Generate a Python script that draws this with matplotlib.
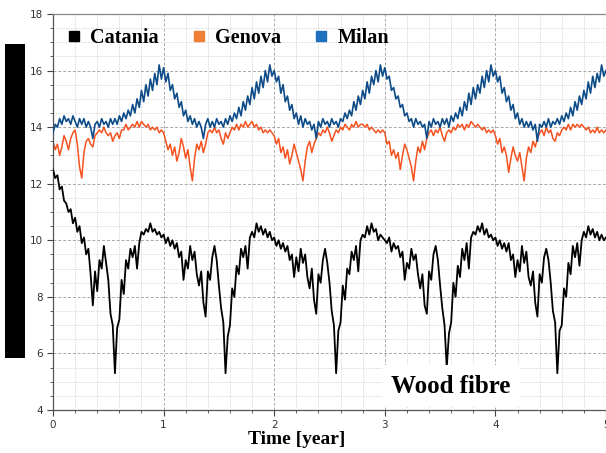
import numpy as np
import matplotlib
matplotlib.use("Agg")
import matplotlib.pyplot as plt
from matplotlib.lines import Line2D
from matplotlib.patches import Rectangle
from matplotlib.ticker import MultipleLocator

# ---------------- data (step 0.02 year) ----------------
step = 0.02
series_names = ["Catania", "Genova", "Milan"]

cat_y0 = [12.5, 12.2, 12.3, 11.8, 11.9, 11.4, 11.3, 11.0, 11.1, 10.6,
          10.8, 10.3, 10.5, 9.9, 10.1, 9.5, 9.7, 8.8, 7.7, 8.9,
          8.2, 9.3, 9.0, 9.8, 9.2, 8.6, 7.4, 7.0, 5.3, 6.9,
          7.2, 8.6, 8.1, 9.3, 9.0, 9.7, 9.4, 9.8, 9.0, 9.9,
          10.3, 10.2, 10.4, 10.3, 10.6, 10.3, 10.4, 10.2, 10.3, 10.1]
cat_y1 = [10.2, 9.9, 10.1, 9.8, 10.0, 9.7, 9.9, 9.4, 9.6, 8.6,
          9.3, 9.0, 9.8, 9.3, 9.6, 8.8, 8.4, 8.9, 7.8, 7.3,
          8.9, 8.6, 9.4, 9.8, 9.3, 8.4, 7.6, 7.1, 5.3, 6.6,
          7.0, 8.3, 8.0, 9.1, 8.8, 9.7, 9.4, 9.8, 9.0, 10.1,
          10.3, 10.1, 10.6, 10.3, 10.5, 10.2, 10.4, 10.1, 10.3, 10.0]
cat_y2 = [10.1, 9.8, 10.0, 9.7, 9.9, 9.6, 9.8, 9.3, 9.5, 8.7,
          9.4, 8.9, 9.7, 9.2, 9.5, 8.7, 8.3, 9.0, 7.9, 7.4,
          8.8, 8.5, 9.3, 9.7, 9.2, 8.5, 7.5, 7.0, 5.3, 6.8,
          7.1, 8.4, 7.9, 9.0, 8.8, 9.6, 9.3, 9.8, 8.9, 10.0,
          10.2, 10.1, 10.5, 10.2, 10.6, 10.3, 10.4, 10.0, 10.2, 10.1]
cat_y3 = [10.0, 9.9, 10.1, 9.6, 9.9, 9.7, 9.8, 9.4, 9.6, 8.6,
          9.2, 9.0, 9.7, 9.3, 9.5, 8.8, 8.3, 8.8, 7.7, 7.4,
          8.9, 8.6, 9.5, 9.8, 9.3, 8.4, 7.6, 7.0, 5.5, 6.7,
          7.1, 8.5, 8.0, 9.1, 8.7, 9.7, 9.3, 9.9, 9.0, 10.1,
          10.3, 10.2, 10.5, 10.3, 10.6, 10.2, 10.4, 10.1, 10.2, 10.0]
cat_y4 = [10.1, 9.8, 10.0, 9.7, 9.9, 9.6, 9.9, 9.3, 9.5, 8.7,
          9.3, 8.9, 9.8, 9.2, 9.6, 8.7, 8.4, 8.9, 7.8, 7.3,
          8.8, 8.5, 9.4, 9.7, 9.3, 8.5, 7.5, 7.1, 5.3, 6.8,
          7.0, 8.3, 8.0, 9.2, 8.8, 9.8, 9.4, 9.9, 9.1, 10.0,
          10.3, 10.1, 10.5, 10.2, 10.4, 10.1, 10.3, 10.0, 10.2, 10.0]
cat_end = [10.1]

gen_y0 = [13.5, 13.2, 13.4, 13.0, 13.3, 13.7, 13.5, 13.2, 13.6, 13.8,
          13.9, 13.4, 12.6, 12.2, 13.1, 13.5, 13.6, 13.4, 13.3, 13.7,
          13.8, 13.9, 13.8, 14.0, 13.8, 13.7, 13.8, 13.5, 13.7, 13.8,
          13.6, 13.9, 13.9, 14.1, 13.9, 14.0, 14.1, 14.0, 14.2, 14.0,
          14.2, 14.1, 14.0, 14.1, 13.9, 14.0, 13.9, 14.0, 13.8, 13.9]
gen_y1 = [13.8, 13.5, 13.2, 13.4, 13.0, 13.3, 12.8, 13.1, 13.6, 13.3,
          12.9, 13.2, 12.6, 12.1, 12.9, 13.4, 13.2, 13.5, 13.1, 13.4,
          13.8, 13.9, 13.8, 14.0, 13.8, 13.9, 13.6, 13.4, 13.8, 13.6,
          13.8, 14.0, 13.9, 14.1, 13.9, 14.1, 14.0, 14.2, 14.0, 14.1,
          14.2, 14.0, 14.1, 13.9, 14.0, 13.8, 13.9, 13.8, 13.9, 13.8]
gen_y2 = [13.7, 13.4, 13.6, 13.1, 13.3, 12.9, 13.2, 12.7, 13.0, 13.4,
          13.1, 12.8, 12.5, 12.1, 12.8, 13.3, 13.5, 13.1, 13.4, 13.6,
          13.8, 13.7, 13.9, 13.8, 14.0, 13.8, 13.5, 13.7, 13.9, 13.8,
          14.0, 13.9, 14.1, 14.0, 13.9, 14.1, 14.0, 14.2, 14.0, 14.1,
          14.1, 14.0, 14.1, 13.9, 14.0, 13.9, 13.8, 13.9, 13.8, 13.9]
gen_y3 = [13.8, 13.4, 13.5, 13.0, 13.2, 12.9, 13.1, 12.5, 13.0, 13.4,
          13.2, 12.9, 12.6, 12.1, 12.8, 13.3, 13.1, 13.5, 13.2, 13.6,
          13.8, 13.9, 13.7, 13.9, 13.8, 14.0, 13.7, 13.5, 13.8, 13.9,
          13.8, 14.0, 13.9, 14.1, 14.0, 14.1, 13.9, 14.1, 14.0, 14.2,
          14.1, 14.0, 14.1, 14.0, 13.9, 14.0, 13.8, 13.9, 13.8, 13.9]
gen_y4 = [13.7, 13.4, 13.6, 13.1, 13.3, 13.0, 12.4, 12.9, 13.3, 13.0,
          12.8, 13.1, 12.6, 12.1, 12.9, 13.3, 13.1, 13.5, 13.3, 13.6,
          13.8, 13.9, 13.7, 14.0, 13.8, 13.9, 13.6, 13.5, 13.8, 13.7,
          13.9, 14.0, 13.9, 14.1, 13.9, 14.1, 14.0, 14.1, 14.0, 14.1,
          14.0, 13.9, 14.0, 13.8, 13.9, 13.8, 14.0, 13.8, 13.9, 13.8]
gen_end = [13.9]

mil_y0 = [13.8, 14.1, 14.0, 14.3, 14.1, 14.4, 14.2, 14.3, 14.1, 14.4,
          14.2, 14.0, 14.3, 14.1, 14.3, 14.0, 14.2, 14.0, 13.6, 14.1,
          14.2, 14.0, 14.3, 14.1, 14.2, 14.0, 14.3, 14.1, 14.3, 14.1,
          14.4, 14.2, 14.5, 14.3, 14.6, 14.4, 14.8, 14.5, 15.0, 14.7,
          15.3, 14.9, 15.5, 15.1, 15.7, 15.3, 15.9, 15.5, 16.2, 15.7]
mil_y1 = [16.1, 15.6, 15.9, 15.3, 15.5, 15.0, 15.2, 14.7, 14.9, 14.4,
          14.6, 14.2, 14.4, 14.1, 14.3, 14.0, 14.2, 14.0, 13.6, 14.1,
          14.3, 14.0, 14.2, 14.0, 14.3, 14.1, 14.2, 14.0, 14.3, 14.1,
          14.4, 14.2, 14.5, 14.3, 14.7, 14.4, 14.9, 14.6, 15.1, 14.8,
          15.4, 15.0, 15.6, 15.2, 15.8, 15.4, 16.0, 15.6, 16.2, 15.8]
mil_y2 = [16.0, 15.6, 15.8, 15.2, 15.5, 14.9, 15.1, 14.6, 14.8, 14.3,
          14.5, 14.1, 14.4, 14.0, 14.3, 14.1, 14.2, 13.9, 14.1, 13.6,
          14.2, 14.0, 14.3, 14.1, 14.2, 14.0, 14.3, 14.1, 14.2, 14.0,
          14.3, 14.2, 14.5, 14.3, 14.6, 14.4, 14.9, 14.6, 15.1, 14.8,
          15.3, 15.0, 15.6, 15.2, 15.8, 15.5, 16.0, 15.6, 16.2, 15.8]
mil_y3 = [16.1, 15.7, 15.8, 15.3, 15.4, 15.0, 15.1, 14.7, 14.8, 14.4,
          14.5, 14.2, 14.3, 14.0, 14.3, 14.1, 14.2, 14.0, 14.1, 13.6,
          14.2, 14.0, 14.3, 14.1, 14.2, 14.0, 14.3, 14.1, 14.3, 14.0,
          14.4, 14.2, 14.5, 14.3, 14.7, 14.4, 14.9, 14.6, 15.2, 14.8,
          15.4, 15.0, 15.5, 15.2, 15.8, 15.4, 16.0, 15.6, 16.2, 15.8]
mil_y4 = [16.0, 15.6, 15.8, 15.2, 15.4, 14.9, 15.1, 14.6, 14.8, 14.3,
          14.5, 14.1, 14.3, 14.0, 14.2, 14.0, 14.2, 13.9, 14.1, 13.5,
          14.1, 14.0, 14.2, 14.0, 14.3, 14.0, 14.2, 14.1, 14.3, 14.1,
          14.4, 14.2, 14.5, 14.3, 14.7, 14.4, 14.9, 14.6, 15.1, 14.8,
          15.3, 15.0, 15.6, 15.2, 15.8, 15.4, 15.9, 15.6, 16.2, 15.8]
mil_end = [16.0]

catania = np.array(cat_y0 + cat_y1 + cat_y2 + cat_y3 + cat_y4 + cat_end)
genova = np.array(gen_y0 + gen_y1 + gen_y2 + gen_y3 + gen_y4 + gen_end)
milan = np.array(mil_y0 + mil_y1 + mil_y2 + mil_y3 + mil_y4 + mil_end)
t = np.arange(len(catania)) * step

line_colors = ["#000000", "#f65220", "#0d4c88"]
legend_colors = ["#000000", "#f08035", "#1f6fbf"]
annotation = "Wood fibre"
x_label = "Time [year]"

# ---------------- figure ----------------
fig = plt.figure(figsize=(6.06, 4.53), dpi=100)
ax = fig.add_axes([53/606, 1 - 410/453, 1 - 53/606, (410 - 14)/453])

ax.plot(t, milan, color=line_colors[2], lw=1.2, zorder=3)
ax.plot(t, genova, color=line_colors[1], lw=1.1, zorder=2)
ax.plot(t, catania, color=line_colors[0], lw=1.3, zorder=4)

ax.set_xlim(0, 5)
ax.set_ylim(4, 18)
ax.xaxis.set_major_locator(MultipleLocator(1))
ax.xaxis.set_minor_locator(MultipleLocator(0.2))
ax.yaxis.set_major_locator(MultipleLocator(2))
ax.yaxis.set_minor_locator(MultipleLocator(0.5))
ax.grid(which="major", color="#a8a8a8", linestyle=(0, (3, 2)), linewidth=0.7, zorder=0)
ax.grid(which="minor", color="#d2d2d2", linestyle=(0, (1.5, 1.5)), linewidth=0.6, zorder=0)
ax.set_axisbelow(True)

for s in ["left", "bottom", "top"]:
    ax.spines[s].set_color("#555555")
    ax.spines[s].set_linewidth(0.9)
ax.spines["top"].set_color("#888888")
ax.spines["right"].set_visible(False)
ax.tick_params(which="major", direction="out", length=4, width=0.8, color="#444444",
               labelsize=7.5, labelcolor="#333333", pad=3)
ax.tick_params(which="minor", direction="out", length=2.5, width=0.6, color="#444444")
for lab in ax.get_xticklabels() + ax.get_yticklabels():
    lab.set_family("DejaVu Sans")

serif = dict(family="Liberation Serif", weight="bold")
handles = [Line2D([], [], marker="s", linestyle="none", color=c, markersize=7) for c in legend_colors]
leg = ax.legend(handles, series_names, loc="upper left", bbox_to_anchor=(0.005, 0.995), ncol=3,
                frameon=False, prop=dict(size=14.5, **serif), handlelength=0.6,
                handletextpad=0.5, columnspacing=1.7, borderaxespad=0.2)

ax.text(0.72, 0.06, annotation, transform=ax.transAxes, ha="center", va="center",
        fontsize=18, zorder=6, bbox=dict(facecolor="white", edgecolor="none", pad=7), **serif)

fig.text(297/606, 1 - 440/453, x_label, ha="center", va="center", fontsize=14, **serif)

fig.patches.append(Rectangle((5/606, 1 - 358/453), 20/606, 314/453, transform=fig.transFigure,
                             facecolor="black", edgecolor="none"))

fig.savefig("out.png", dpi=100)
